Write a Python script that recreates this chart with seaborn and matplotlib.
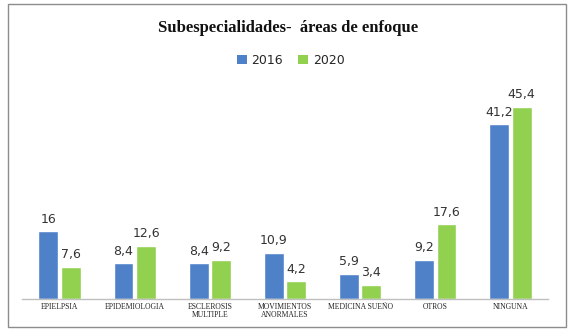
import matplotlib
matplotlib.use("Agg")
import matplotlib.pyplot as plt
import seaborn as sns
import pandas as pd
from matplotlib.patches import Rectangle

categories = ["EPIELPSIA", "EPIDEMIOLOGIA", "ESCLEROSIS\nMULTIPLE", "MOVIMIENTOS\nANORMALES",
              "MEDICINA SUEÑO", "OTROS", "NINGUNA"]
years = ["2016", "2020"]
values_2016 = [16, 8.4, 8.4, 10.9, 5.9, 9.2, 41.2]
values_2020 = [7.6, 12.6, 9.2, 4.2, 3.4, 17.6, 45.4]

df = pd.DataFrame({
    "cat": categories * 2,
    "year": [years[0]] * len(categories) + [years[1]] * len(categories),
    "val": values_2016 + values_2020,
})

sns.set_theme(style="white")
fig = plt.figure(figsize=(5.7, 3.31), dpi=100)
ax = fig.add_axes([22 / 570, (331 - 299) / 331, (548 - 22) / 570, (299 - 87) / 331])

palette = {"2016": "#4F81C9", "2020": "#92D050"}
sns.barplot(data=df, x="cat", y="val", hue="year", palette=palette, width=0.6, gap=0.12,
            ax=ax, saturation=1, legend=False)

ax.set_ylim(0, 50)
ax.set_xlabel("")
ax.set_ylabel("")
ax.set_yticks([])
for s in ["top", "right", "left"]:
    ax.spines[s].set_visible(False)
ax.spines["bottom"].set_color("#BFBFBF")
ax.spines["bottom"].set_linewidth(1)
ax.tick_params(axis="x", length=0, pad=3)
ax.set_xticks(range(len(categories)))
ax.set_xticklabels(categories, fontsize=5.5, family="Liberation Serif", color="#222222",
                   linespacing=1.0, va="top")

for cont in ax.containers:
    labels = [f"{v:g}".replace(".", ",") for v in cont.datavalues]
    ax.bar_label(cont, labels=labels, padding=4, fontsize=9, color="#333333",
                 family="DejaVu Sans")

fig.text(0.505, 0.915, "Subespecialidades-  áreas de enfoque", ha="center", va="center",
         fontsize=12, fontweight="bold", family="Liberation Serif", color="#111111")

# legend
from matplotlib.patches import Patch
handles = [Patch(facecolor=palette[y], edgecolor="none") for y in years]
fig.legend(handles, years, loc="center", bbox_to_anchor=(0.51, 0.818), ncol=2, frameon=False,
           fontsize=9, handlelength=0.8, handleheight=0.8, handletextpad=0.4, columnspacing=1.2)

fig.patches.append(Rectangle((8 / 570, 4 / 331), (566 - 8) / 570, (327 - 4) / 331,
                             transform=fig.transFigure, fill=False, edgecolor="#8C8C8C",
                             linewidth=1))

fig.savefig("out.png", dpi=100)
